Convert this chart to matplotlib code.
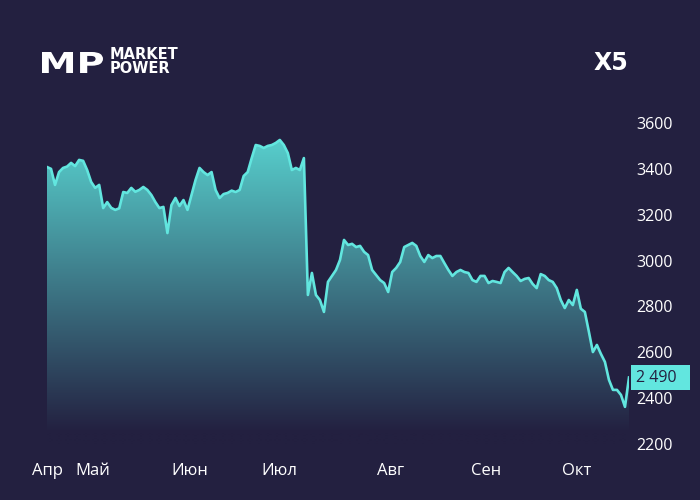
import numpy as np
import matplotlib
matplotlib.use('Agg')
import matplotlib.pyplot as plt
import matplotlib.transforms as mtransforms
from matplotlib.patches import Polygon, PathPatch
from matplotlib.textpath import TextPath
from matplotlib.font_manager import FontProperties

# X5 share price, one value per step
prices = [
    3408, 3400, 3330, 3386, 3404, 3410, 3426, 3412, 3439, 3435,
    3395, 3343, 3317, 3330, 3229, 3255, 3230, 3221, 3228, 3299,
    3295, 3317, 3300, 3308, 3321, 3308, 3286, 3255, 3229, 3234,
    3120, 3242, 3273, 3238, 3264, 3221, 3286, 3351, 3404, 3386,
    3373, 3386, 3308, 3273, 3290, 3295, 3305, 3299, 3308, 3369,
    3386, 3447, 3504, 3500, 3491, 3500, 3504, 3513, 3526, 3504,
    3469, 3395, 3404, 3395, 3447, 2850, 2946, 2850, 2828, 2776,
    2907, 2933, 2959, 3003, 3090, 3068, 3073, 3059, 3064, 3038,
    3024, 2959, 2937, 2915, 2902, 2863, 2950, 2968, 2994, 3059,
    3068, 3077, 3064, 3020, 2994, 3024, 3011, 3020, 3020, 2989,
    2959, 2933, 2950, 2959, 2950, 2946, 2915, 2907, 2933, 2933,
    2902, 2911, 2907, 2902, 2950, 2968, 2950, 2933, 2911, 2920,
    2924, 2898, 2880, 2941, 2933, 2915, 2907, 2880, 2828, 2793,
    2828, 2806, 2872, 2790, 2776, 2690, 2601, 2632, 2593, 2558,
    2480, 2436, 2436, 2414, 2362, 2490,
]
month_labels = ['Апр', 'Май', 'Июн', 'Июл', 'Авг', 'Сен', 'Окт']
month_pos = [0, 11.5, 35.5, 58, 85.5, 109.5, 132]
y_ticks = [2200, 2400, 2600, 2800, 3000, 3200, 3400, 3600]
last_label = '2 490'

bg = '#232040'
cyan = '#62e6df'
top_rgb = np.array([90, 216, 212]) / 255
bg_rgb = np.array([35, 32, 64]) / 255
fonts = ['Open Sans', 'DejaVu Sans']

fig = plt.figure(figsize=(7, 5), dpi=100, facecolor=bg)
ax = fig.add_axes([47 / 700, 56 / 500, 582 / 700, 321 / 500])
ax.set_facecolor(bg)

x = np.arange(len(prices))
ymin, ymax = 2200, 3600

# gradient fill under the line
levels = np.linspace(ymin, ymax, 300)
t = np.clip((levels - 2250) / (ymax - 2250), 0, 1)[:, None]
grad = (bg_rgb + t * (top_rgb - bg_rgb))[:, None, :]
img = ax.imshow(grad, extent=[x[0], x[-1], ymin, ymax], origin='lower',
                aspect='auto', zorder=1, interpolation='bilinear')
verts = np.column_stack([np.r_[x[0], x, x[-1]], np.r_[ymin, prices, ymin]])
clip = Polygon(verts, closed=True, facecolor='none', edgecolor='none')
ax.add_patch(clip)
img.set_clip_path(clip)

ax.plot(x, prices, color=cyan, lw=1.9, zorder=3, solid_joinstyle='round')

ax.set_xlim(x[0], x[-1])
ax.set_ylim(ymin, ymax)
for s in ax.spines.values():
    s.set_visible(False)

ax.yaxis.tick_right()
ax.set_yticks(y_ticks)
ax.set_yticklabels([str(v) for v in y_ticks], family=fonts, fontsize=11.5)
ax.set_xticks(month_pos)
ax.set_xticklabels(month_labels, family=fonts, fontsize=12)
ax.tick_params(axis='y', length=0, pad=5, colors='white')
ax.tick_params(axis='x', length=0, pad=14, colors='white')

# last price marker on the right
trans = mtransforms.blended_transform_factory(ax.transAxes, ax.transData)
ax.text(1.012, prices[-1], last_label + '  ', transform=trans, ha='left', va='center',
        family=fonts, fontsize=11.5, color=bg, zorder=5,
        bbox=dict(boxstyle='square,pad=0.3', fc=cyan, ec='none'))

# logo
tp = TextPath((0, 0), 'MP', size=1, prop=FontProperties(family='DejaVu Sans', weight='bold'))
bb = tp.get_extents()
tr = mtransforms.Affine2D().translate(-bb.x0, -bb.y0).scale(61 / bb.width, 21 / bb.height).translate(42, 500 - 73)
fig.add_artist(PathPatch(tp, transform=tr, fc='white', ec='none'))
fig.text(110 / 700, 1 - 47 / 500, 'MARKET\nPOWER', color='white', fontsize=10.5, fontweight='bold',
         family='DejaVu Sans', va='top', ha='left', linespacing=0.95)
fig.text(628 / 700, 1 - 70 / 500, 'X5', color='white', fontsize=17, fontweight='bold',
         family='DejaVu Sans', va='baseline', ha='right')

fig.savefig('out.png', dpi=100, facecolor=bg)
